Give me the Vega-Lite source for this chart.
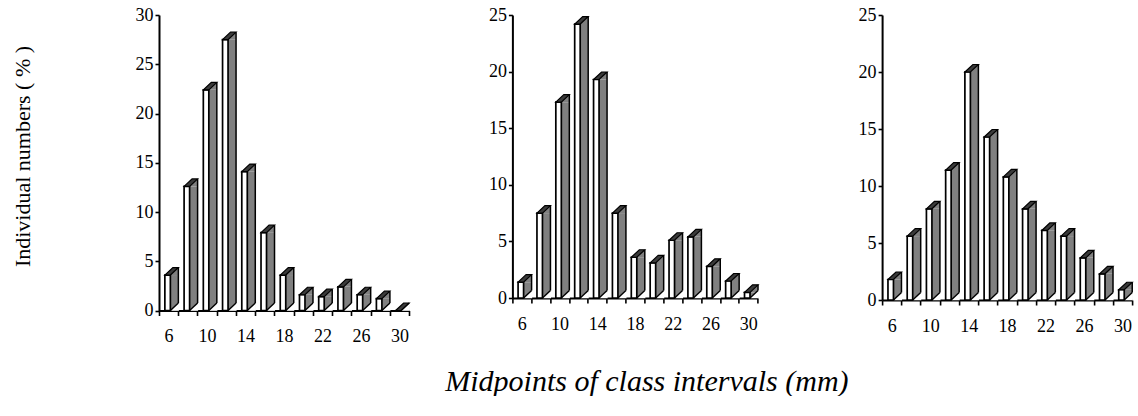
{
  "$schema": "https://vega.github.io/schema/vega-lite/v6.json",
  "padding": {"left": 11, "top": 6, "right": 0, "bottom": 0},
  "config": {
    "font": "Liberation Serif",
    "view": {"stroke": null},
    "axis": {
      "domainColor": "black", "tickColor": "black", "labelColor": "black", "titleColor": "black",
      "labelFont": "Liberation Serif", "titleFont": "Liberation Serif", "labelFontSize": 18,
      "domainWidth": 2, "tickWidth": 1.6, "grid": false, "zindex": 1, "titleFontWeight": "normal"
    }
  },
  "datasets": {
    "d": [
      {"panel": "A", "size": 6, "pct": 3.6}, {"panel": "A", "size": 8, "pct": 12.6}, {"panel": "A", "size": 10, "pct": 22.4},
      {"panel": "A", "size": 12, "pct": 27.5}, {"panel": "A", "size": 14, "pct": 14.1}, {"panel": "A", "size": 16, "pct": 7.9},
      {"panel": "A", "size": 18, "pct": 3.6}, {"panel": "A", "size": 20, "pct": 1.6}, {"panel": "A", "size": 22, "pct": 1.4},
      {"panel": "A", "size": 24, "pct": 2.4}, {"panel": "A", "size": 26, "pct": 1.6}, {"panel": "A", "size": 28, "pct": 1.2},
      {"panel": "A", "size": 30, "pct": 0},
      {"panel": "B", "size": 6, "pct": 1.4}, {"panel": "B", "size": 8, "pct": 7.5}, {"panel": "B", "size": 10, "pct": 17.3},
      {"panel": "B", "size": 12, "pct": 24.2}, {"panel": "B", "size": 14, "pct": 19.3}, {"panel": "B", "size": 16, "pct": 7.5},
      {"panel": "B", "size": 18, "pct": 3.6}, {"panel": "B", "size": 20, "pct": 3.1}, {"panel": "B", "size": 22, "pct": 5.1},
      {"panel": "B", "size": 24, "pct": 5.4}, {"panel": "B", "size": 26, "pct": 2.8}, {"panel": "B", "size": 28, "pct": 1.5},
      {"panel": "B", "size": 30, "pct": 0.5},
      {"panel": "C", "size": 6, "pct": 1.8}, {"panel": "C", "size": 8, "pct": 5.6}, {"panel": "C", "size": 10, "pct": 8.0},
      {"panel": "C", "size": 12, "pct": 11.4}, {"panel": "C", "size": 14, "pct": 20.0}, {"panel": "C", "size": 16, "pct": 14.3},
      {"panel": "C", "size": 18, "pct": 10.8}, {"panel": "C", "size": 20, "pct": 8.0}, {"panel": "C", "size": 22, "pct": 6.1},
      {"panel": "C", "size": 24, "pct": 5.6}, {"panel": "C", "size": 26, "pct": 3.7}, {"panel": "C", "size": 28, "pct": 2.3},
      {"panel": "C", "size": 30, "pct": 0.9}
    ]
  },
  "bounds": "flush",
  "spacing": 103.4,
  "hconcat": [
    {
      "width": 250, "height": 295.5,
      "data": {"name": "d"},
      "transform": [{"filter": "datum.panel == 'A'"}],
      "encoding": {
        "x": {"field": "size", "type": "ordinal", "sort": "ascending", "scale": {"paddingInner": 0, "paddingOuter": 0},
          "axis": {"title": null, "tickBand": "extent", "tickSize": 5, "labelAngle": 0, "labelPadding": 12,
            "labelExpr": "indexof(['6','10','14','18','22','26','30'], datum.label) >= 0 ? datum.label : ''"}},
        "y": {"field": "pct", "type": "quantitative", "scale": {"domain": [0, 30], "nice": false},
          "axis": {"values": [0, 5, 10, 15, 20, 25, 30], "tickSize": 4, "labelPadding": 2,
            "title": "Individual numbers ( % )", "titleFontSize": 22, "titlePadding": 101, "titleY": 141}}
      },
      "layer": [
        {"mark": {"type": "bar", "width": 8, "xOffset": 5.75, "fill": "#808080", "strokeWidth": 0}},
        {"mark": {"type": "point", "shape": "M1.75,0L9.75,-7.5L9.75,0Z", "size": 4, "filled": true, "fill": "#808080", "strokeWidth": 0, "opacity": 1}},
        {"mark": {"type": "point", "shape": "M1.75,0.2L10.3,0.2L10.3,-7.9Z", "size": 4, "filled": true, "fill": "white", "strokeWidth": 0, "opacity": 1},
          "encoding": {"y": {"datum": 0}}},
        {"mark": {"type": "point", "shape": "M1.75,0L9.75,-7.5", "size": 4, "filled": false, "stroke": "black", "strokeWidth": 1.4, "opacity": 1},
          "encoding": {"y": {"datum": 0}}},
        {"mark": {"type": "rule", "xOffset": 9.75, "yOffset": -7.5, "y2Offset": -7.5, "stroke": "black", "strokeWidth": 1.5},
          "encoding": {"y2": {"datum": 0}}},
        {"mark": {"type": "bar", "width": 5.5, "xOffset": -1, "fill": "white", "stroke": "black", "strokeWidth": 1.7}},
        {"mark": {"type": "point", "shape": "M-3.75,0L1.75,0L9.75,-7.5L4.25,-7.5Z", "size": 4, "filled": true, "fill": "#3a3a3a", "stroke": "black", "strokeWidth": 1.2, "opacity": 1}}
      ]
    },
    {
      "bounds": "flush",
      "spacing": 123.7,
      "hconcat": [
        {
          "width": 245.3, "height": 283,
          "data": {"name": "d"},
          "transform": [{"filter": "datum.panel == 'B'"}],
          "encoding": {
            "x": {"field": "size", "type": "ordinal", "sort": "ascending", "scale": {"paddingInner": 0, "paddingOuter": 0},
              "axis": {"tickBand": "extent", "tickSize": 5, "labelAngle": 0, "labelPadding": 12,
                "labelExpr": "indexof(['6','10','14','18','22','26','30'], datum.label) >= 0 ? datum.label : ''",
                "title": "Midpoints of class intervals (mm)", "titleFontSize": 30, "titleFontStyle": "italic", "titlePadding": 33, "titleX": 134}},
            "y": {"field": "pct", "type": "quantitative", "scale": {"domain": [0, 25], "nice": false},
              "axis": {"values": [0, 5, 10, 15, 20, 25], "tickSize": 4, "labelPadding": 2, "title": null}}
          },
          "layer": [
            {"mark": {"type": "bar", "width": 8, "xOffset": 5.75, "fill": "#808080", "strokeWidth": 0}},
            {"mark": {"type": "point", "shape": "M1.75,0L9.75,-7.5L9.75,0Z", "size": 4, "filled": true, "fill": "#808080", "strokeWidth": 0, "opacity": 1}},
            {"mark": {"type": "point", "shape": "M1.75,0.2L10.3,0.2L10.3,-7.9Z", "size": 4, "filled": true, "fill": "white", "strokeWidth": 0, "opacity": 1},
              "encoding": {"y": {"datum": 0}}},
            {"mark": {"type": "point", "shape": "M1.75,0L9.75,-7.5", "size": 4, "filled": false, "stroke": "black", "strokeWidth": 1.4, "opacity": 1},
              "encoding": {"y": {"datum": 0}}},
            {"mark": {"type": "rule", "xOffset": 9.75, "yOffset": -7.5, "y2Offset": -7.5, "stroke": "black", "strokeWidth": 1.5},
              "encoding": {"y2": {"datum": 0}}},
            {"mark": {"type": "bar", "width": 5.5, "xOffset": -1, "fill": "white", "stroke": "black", "strokeWidth": 1.7}},
            {"mark": {"type": "point", "shape": "M-3.75,0L1.75,0L9.75,-7.5L4.25,-7.5Z", "size": 4, "filled": true, "fill": "#3a3a3a", "stroke": "black", "strokeWidth": 1.2, "opacity": 1}}
          ]
        },
        {
          "width": 250, "height": 285,
          "data": {"name": "d"},
          "transform": [{"filter": "datum.panel == 'C'"}],
          "encoding": {
            "x": {"field": "size", "type": "ordinal", "sort": "ascending", "scale": {"paddingInner": 0, "paddingOuter": 0},
              "axis": {"title": null, "tickBand": "extent", "tickSize": 5, "labelAngle": 0, "labelPadding": 12,
                "labelExpr": "indexof(['6','10','14','18','22','26','30'], datum.label) >= 0 ? datum.label : ''"}},
            "y": {"field": "pct", "type": "quantitative", "scale": {"domain": [0, 25], "nice": false},
              "axis": {"values": [0, 5, 10, 15, 20, 25], "tickSize": 4, "labelPadding": 2, "title": null}}
          },
          "layer": [
            {"mark": {"type": "bar", "width": 8, "xOffset": 5.75, "fill": "#808080", "strokeWidth": 0}},
            {"mark": {"type": "point", "shape": "M1.75,0L9.75,-7.5L9.75,0Z", "size": 4, "filled": true, "fill": "#808080", "strokeWidth": 0, "opacity": 1}},
            {"mark": {"type": "point", "shape": "M1.75,0.2L10.3,0.2L10.3,-7.9Z", "size": 4, "filled": true, "fill": "white", "strokeWidth": 0, "opacity": 1},
              "encoding": {"y": {"datum": 0}}},
            {"mark": {"type": "point", "shape": "M1.75,0L9.75,-7.5", "size": 4, "filled": false, "stroke": "black", "strokeWidth": 1.4, "opacity": 1},
              "encoding": {"y": {"datum": 0}}},
            {"mark": {"type": "rule", "xOffset": 9.75, "yOffset": -7.5, "y2Offset": -7.5, "stroke": "black", "strokeWidth": 1.5},
              "encoding": {"y2": {"datum": 0}}},
            {"mark": {"type": "bar", "width": 5.5, "xOffset": -1, "fill": "white", "stroke": "black", "strokeWidth": 1.7}},
            {"mark": {"type": "point", "shape": "M-3.75,0L1.75,0L9.75,-7.5L4.25,-7.5Z", "size": 4, "filled": true, "fill": "#3a3a3a", "stroke": "black", "strokeWidth": 1.2, "opacity": 1}}
          ]
        }
      ]
    }
  ]
}
